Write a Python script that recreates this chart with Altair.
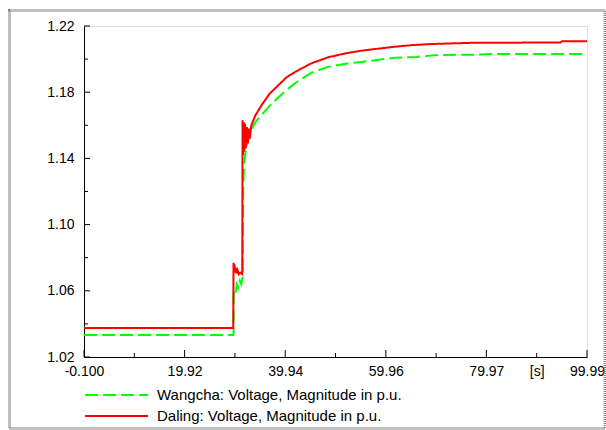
import altair as alt
import pandas as pd

series_names = ["Wangcha: Voltage, Magnitude in p.u.", "Daling: Voltage, Magnitude in p.u."]
series_colors = ["#00ff00", "#ff0000"]
series_dash = [[13, 5], [1, 0]]

wangcha_t = [-0.1, 29.65, 29.7, 29.9, 30.1, 30.3, 30.6, 30.9, 31.2, 31.45, 31.6, 31.8, 32.2,
             33.0, 34.0, 35.2, 36.6, 38.6, 40.5, 42.0, 45.1, 48.5, 52.0, 55.1, 61.8, 66.0,
             70.3, 77.7, 81.6, 90.0, 99.99]
wangcha_v = [1.0333, 1.0333, 1.0585, 1.061, 1.059, 1.064, 1.062, 1.066, 1.064, 1.068, 1.125,
             1.138, 1.147, 1.156, 1.162, 1.166, 1.171, 1.177, 1.182, 1.1857, 1.1917, 1.1953,
             1.1972, 1.1983, 1.2008, 1.2013, 1.2025, 1.2027, 1.2031, 1.2031, 1.2031]

daling_t = [-0.1, 29.6, 29.65, 29.75, 29.85, 29.95, 30.1, 30.25, 30.45, 30.7, 31.0, 31.4,
            31.45, 31.55, 31.65, 31.8, 31.95, 32.1, 32.3, 32.5, 32.7, 32.9, 33.2, 34.0, 35.2,
            36.8, 38.6, 40.2, 42.0, 45.1, 48.5, 52.0, 55.1, 61.8, 65.4, 69.0, 77.7, 94.7,
            95.0, 99.99]
daling_v = [1.0375, 1.0375, 1.077, 1.072, 1.076, 1.071, 1.074, 1.0705, 1.0725, 1.070, 1.071,
            1.070, 1.163, 1.142, 1.162, 1.144, 1.161, 1.146, 1.159, 1.149, 1.158, 1.152,
            1.160, 1.166, 1.172, 1.179, 1.1843, 1.189, 1.1924, 1.1974, 1.2011, 1.2035,
            1.2051, 1.2075, 1.2085, 1.2091, 1.2099, 1.2100, 1.2108, 1.2108]

x_major = [-0.1, 19.92, 39.94, 59.96, 79.97, 99.99]
x_minor = [9.91, 29.93, 49.95, 69.965, 89.98]
y_major = [1.02, 1.06, 1.10, 1.14, 1.18, 1.22]
y_minor = [1.04, 1.08, 1.12, 1.16, 1.20]

df = pd.concat([
    pd.DataFrame({"t": wangcha_t, "v": wangcha_v, "series": series_names[0]}),
    pd.DataFrame({"t": daling_t, "v": daling_v, "series": series_names[1]}),
])

FONT = "Liberation Sans"
xm = ",".join(str(v) for v in x_major)
ym = ",".join(str(v) for v in y_major)

x_axis = alt.Axis(
    values=x_major + x_minor, title=None, grid=False, ticks=False, labelPadding=7,
    labelFlush=False, labelOverlap=False,
    labelFontSize=14, labelFont=FONT, labelColor="#000", domainColor="#000",
    labelExpr=("datum.value == -0.1 ? '-0.100' : datum.value == 89.98 ? '[s]' : "
               f"indexof([{xm}], datum.value) >= 0 ? format(datum.value, '.2f') : ''"),
)
y_axis = alt.Axis(
    values=y_major + y_minor, title=None, grid=False, ticks=False, labelPadding=10,
    labelFlush=False, labelOverlap=False,
    labelFontSize=14, labelFont=FONT, labelColor="#000", domainColor="#000",
    labelExpr=f"indexof([{ym}], datum.value) >= 0 ? format(datum.value, '.2f') : ''",
)
x_scale = alt.Scale(domain=[-0.1, 99.99], nice=False, zero=False)
y_scale = alt.Scale(domain=[1.02, 1.22], nice=False, zero=False)

color = alt.Color("series:N", scale=alt.Scale(domain=series_names, range=series_colors),
                  legend=alt.Legend(title=None, orient="none", legendX=0, legendY=360,
                                    symbolType="M-1,0H7", symbolSize=248, symbolStrokeWidth=2,
                                    labelFontSize=15, labelFont=FONT, labelColor="#000",
                                    labelLimit=400, labelOffset=55, rowPadding=4,
                                    direction="vertical", padding=0))
dash = alt.StrokeDash("series:N", scale=alt.Scale(domain=series_names, range=series_dash),
                      legend=None)

base = alt.Chart(df).mark_line(strokeWidth=2, interpolate="linear").encode(
    x=alt.X("t:Q", scale=x_scale, axis=x_axis),
    y=alt.Y("v:Q", scale=y_scale, axis=y_axis),
    color=color,
    strokeDash=dash,
    order=alt.Order("t:Q"),
)
green = base.transform_filter(alt.datum.series == series_names[0])
red = base.transform_filter(alt.datum.series == series_names[1])

def xticks(vals, length):
    return alt.Chart(pd.DataFrame({"t": vals})).mark_rule(color="#000", strokeWidth=1).encode(
        x=alt.X("t:Q", scale=x_scale, axis=x_axis), y=alt.value(331), y2=alt.value(331 - length))

def yticks(vals, length):
    return alt.Chart(pd.DataFrame({"v": vals})).mark_rule(color="#000", strokeWidth=1).encode(
        y=alt.Y("v:Q", scale=y_scale, axis=y_axis), x=alt.value(0), x2=alt.value(length))

border = alt.Chart(pd.DataFrame({"a": [0]})).mark_rect(
    fillOpacity=0, stroke="#808080", strokeWidth=3, strokeDash=[1, 1]
).encode(x=alt.value(-74.5), x2=alt.value(521), y=alt.value(-15.5), y2=alt.value(402.5))

chart = alt.layer(
    border, xticks(x_major, 7), xticks(x_minor, 4), yticks(y_major, 6), yticks(y_minor, 4),
    green, red
).properties(
    width=503, height=331,
    autosize=alt.AutoSizeParams(type="none"),
    padding={"left": 84, "top": 26, "right": 19, "bottom": 73},
).configure_view(stroke=None).configure(background="white")

chart.save("out.html", embed_options={"renderer": "svg", "actions": False})
